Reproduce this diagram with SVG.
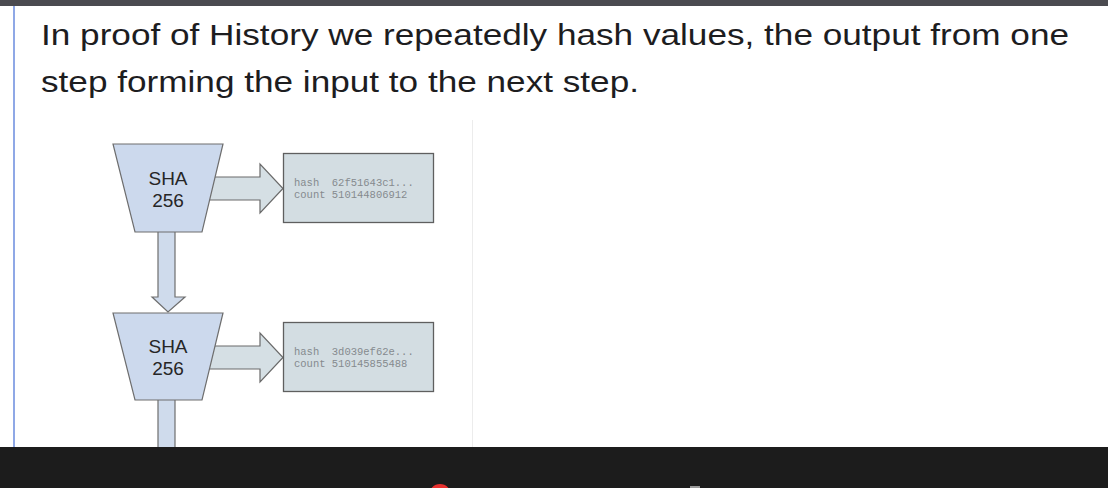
<svg xmlns="http://www.w3.org/2000/svg" width="1108" height="488" viewBox="0 0 1108 488">
<style>
.head{font-family:"Liberation Sans",Arial,sans-serif;font-size:30px;fill:#1d1d1f}
.sha{fill:#ccd9ed;stroke:#6e6e6e;stroke-width:1.2}
.shat{font-family:"Liberation Sans",Arial,sans-serif;font-size:19px;fill:#262626;text-anchor:middle}
.box{fill:#d3dde2;stroke:#5f5f5f;stroke-width:1.3}
.mono{font-family:"Liberation Mono","Courier New",monospace;font-size:10.5px;fill:#858a8e}
.harrow{fill:#d5dfe4;stroke:#6a6a6a;stroke-width:1.2}
.varrow{fill:#cfdbec;stroke:#6e6e6e;stroke-width:1.2}
</style>
<rect x="0" y="0" width="1108" height="488" fill="#ffffff"/>
<rect x="0" y="0" width="1108" height="6" fill="#4b4b50"/>
<rect x="13" y="6" width="2" height="441" fill="#8fa8e6"/>
<line x1="472.5" y1="120" x2="472.5" y2="447" stroke="#ececec" stroke-width="1"/>
<text class="head" x="41" y="45" textLength="1028" lengthAdjust="spacingAndGlyphs">In proof of History we repeatedly hash values, the output from one</text>
<text class="head" x="41" y="92" textLength="598" lengthAdjust="spacingAndGlyphs">step forming the input to the next step.</text>

<g id="connectors">
<path class="harrow" d="M205,177 H260 V164 L283,188.5 L260,213 V200 H205 Z"/>
<path class="harrow" d="M205,346 H260 V333 L283,357.5 L260,382 V369 H205 Z"/>
<path class="varrow" d="M158,228 V297 H152 L168,312 L185,297 H175 V228 Z"/>
<path class="varrow" d="M158,398 V452 H175 V398 Z"/>
</g>

<g id="sha1">
<polygon class="sha" points="113,144 223,144 202,232 135,232"/>
<text class="shat" x="168" y="185">SHA</text>
<text class="shat" x="168" y="207">256</text>
</g>
<g id="sha2">
<polygon class="sha" points="113,313 223,313 202,400 135,400"/>
<text class="shat" x="168" y="353">SHA</text>
<text class="shat" x="168" y="375">256</text>
</g>

<g id="out1">
<rect class="box" x="283.5" y="153.5" width="150" height="69"/>
<text class="mono" x="294" y="186" xml:space="preserve">hash  62f51643c1...</text>
<text class="mono" x="294" y="198" xml:space="preserve">count 510144806912</text>
</g>
<g id="out2">
<rect class="box" x="283.5" y="322.5" width="150" height="69"/>
<text class="mono" x="294" y="355" xml:space="preserve">hash  3d039ef62e...</text>
<text class="mono" x="294" y="367" xml:space="preserve">count 510145855488</text>
</g>

<rect x="0" y="447" width="1108" height="41" fill="#1c1c1c"/>
<circle cx="440" cy="495" r="11" fill="#e8312f"/>
<rect x="690" y="486" width="10" height="2" fill="#9a9a9a"/>
</svg>
